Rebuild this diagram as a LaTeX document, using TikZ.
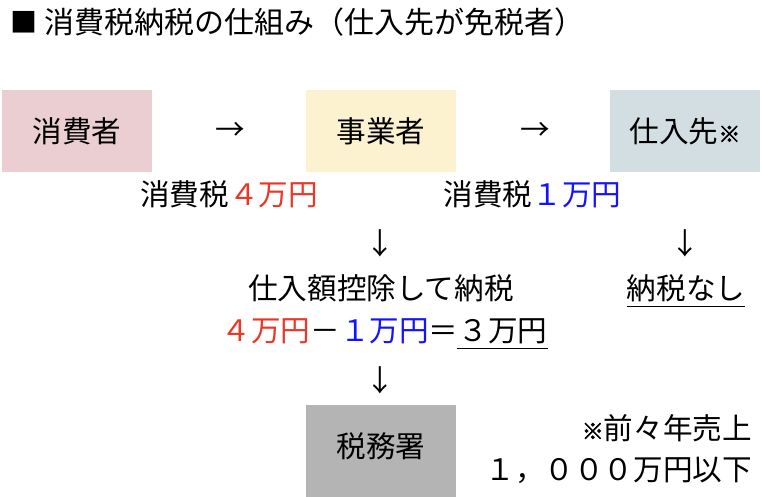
\documentclass[tikz,border=0pt]{standalone}
\usepackage{fontspec}
\setmainfont{Noto Sans CJK JP}
\newfontfamily\komefont[FakeBold=2.5]{Noto Sans CJK JP}
\definecolor{pinkbox}{RGB}{235,206,209}
\definecolor{yellowbox}{RGB}{252,242,208}
\definecolor{bluebox}{RGB}{211,222,226}
\definecolor{graybox}{RGB}{180,180,180}
\definecolor{redtxt}{RGB}{234,56,40}
\definecolor{bluetxt}{RGB}{20,20,250}
\tikzset{
  txt/.style={inner sep=0pt, font=\fontsize{29.6}{34}\selectfont},
  box/.style={txt, minimum width=150pt, minimum height=82pt},
  uline/.style={line width=1.3pt},
}
\newcommand{\kome}{{\komefont\fontsize{22}{26}\selectfont ※}}
\begin{document}
\begin{tikzpicture}[x=1pt,y=-1pt]
\useasboundingbox (0,0) rectangle (762,496);
% title
\node[txt, font=\fontsize{27}{30}\selectfont] (sq) at (23.5,22) {■};
\node[txt, anchor=west, font=\fontsize{30}{34}\selectfont] (title) at (44,22) {消費税納税の仕組み（仕入先が免税者）};
% boxes
\node[box, fill=pinkbox] (consumer) at (77,131) {消費者};
\node[box, fill=yellowbox] (biz) at (381,131) {事業者};
\node[box, fill=bluebox] (supplier) at (685,131) {仕入先\kome};
\node[box, fill=graybox, minimum height=92pt, anchor=north,
      label={[txt, yshift=5pt]center:税務署}] (tax) at (381,405) {};
% arrows (glyphs)
\node[txt] (ar1) at (230,131) {→};
\node[txt] (ar2) at (535,131) {→};
\node[txt] (ar3) at (380,243) {↓};
\node[txt] (ar4) at (685,243) {↓};
\node[txt] (ar5) at (380,380) {↓};
% labels
\node[txt] (tax4) at (229,194) {消費税{\color{redtxt}４万円}};
\node[txt] (tax1) at (532.5,194) {消費税{\color{bluetxt}１万円}};
\node[txt] (deduct) at (381,288) {仕入額控除して納税};
\node[txt] (nozei) at (686,288) {納税なし};
\draw[uline] ([yshift=-4.5pt]nozei.south west) -- ([yshift=-4.5pt]nozei.south east);
\node[txt] (eq) at (384.5,331) {{\color{redtxt}４万円}－{\color{bluetxt}１万円}＝３万円};
\draw[uline] ([xshift=-91pt,yshift=-4.5pt]eq.south east) -- ([yshift=-4.5pt]eq.south east);
\node[txt, anchor=east] (note1) at (752,428) {\kome 前々年売上};
\node[txt, anchor=east] (note2) at (752,470) {１，０００万円以下};
\end{tikzpicture}
\end{document}
